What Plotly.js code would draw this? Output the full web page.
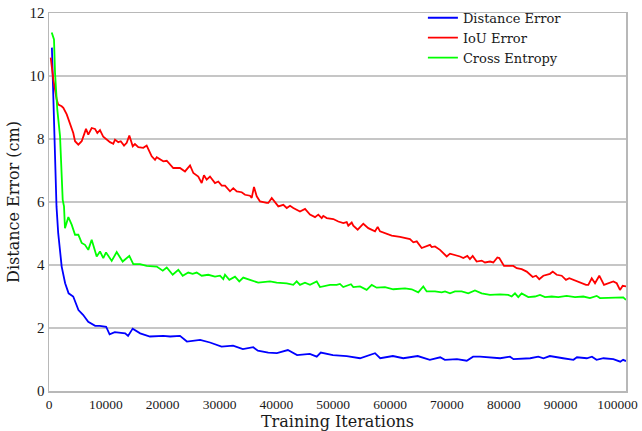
<!DOCTYPE html>
<html>
<head>
<meta charset="utf-8">
<script src="https://cdn.plot.ly/plotly-3.0.1.min.js"></script>
<style>html,body{margin:0;padding:0;background:#fff;}#chart{width:642px;height:431px;}</style>
</head>
<body>
<div id="chart"></div>
<script>
// Distance Error (blue)
const blueX = [510,1320,1620,2230,2840,3450,4260,5180,5990,6900,8120,8930,10050,10660,11570,13400,13910,14720,16040,17760,20100,21310,23040,24260,26590,28320,30350,32380,34100,35930,36740,38570,40090,42020,43640,45880,47100,47810,49940,52370,54710,57350,58260,60490,62320,64860,66990,68820,69630,71760,73490,74600,75820,77550,79370,81100,81710,84650,86070,86990,88100,90440,92260,92870,94600,95510,96320,97540,99270,100490,100990,101500];
const blueY = [10.9,5.86,5.01,3.95,3.42,3.1,3.0,2.57,2.42,2.2,2.07,2.07,2.04,1.8,1.87,1.83,1.75,1.98,1.83,1.73,1.75,1.73,1.75,1.57,1.62,1.54,1.41,1.44,1.33,1.39,1.28,1.22,1.2,1.3,1.14,1.18,1.09,1.22,1.14,1.11,1.04,1.2,1.04,1.11,1.04,1.11,0.99,1.07,0.99,1.01,0.96,1.09,1.09,1.07,1.04,1.09,1.01,1.04,1.09,1.04,1.11,1.04,0.99,1.07,1.04,1.09,0.99,1.04,1.01,0.93,0.99,0.95];

// IoU Error (red)
const redX = [300,760,1350,1630,2230,2520,3120,3690,4270,4580,5160,5750,6510,6910,7510,8090,8500,8970,9550,10730,11310,11610,12190,12620,13200,13670,14130,14730,15120,15710,16590,17180,18070,18650,18950,20110,20710,21860,23040,23920,24810,25390,26260,26860,27260,27740,28320,29200,29780,30380,30960,31840,32420,33020,33900,34480,35360,35660,36060,36540,37120,38300,38580,39180,39760,40340,41220,41820,42400,42980,44150,45040,45910,46790,47370,47970,48250,48850,50010,50890,51770,52370,52650,53250,53530,54300,55290,56170,57350,57820,58230,59100,60280,61740,63500,64090,64690,65560,66440,67020,67330,67900,68780,69960,70540,71420,72300,72880,73590,74050,74530,75230,76110,76690,77580,78160,78870,79210,80040,80790,81680,82280,83150,84030,85090,85670,86240,86960,88130,88610,89310,90190,90940,91520,92530,93410,94470,94870,95470,96050,96800,97630,98380,99270,99870,100440,100920,101500];
const redY = [10.58,9.89,9.25,9.09,9.04,8.99,8.78,8.51,8.19,7.93,7.82,7.93,8.32,8.14,8.35,8.32,8.19,8.28,8.07,7.9,7.85,7.98,7.9,7.93,7.79,7.88,8.11,7.77,7.84,7.74,7.72,7.79,7.45,7.34,7.42,7.29,7.31,7.08,7.08,6.97,7.16,6.92,6.81,6.6,6.85,6.71,6.81,6.6,6.65,6.52,6.52,6.34,6.44,6.34,6.31,6.23,6.2,6.13,6.48,6.18,6.02,5.97,5.97,6.13,5.99,5.86,5.91,5.81,5.88,5.81,5.7,5.78,5.6,5.52,5.6,5.49,5.56,5.49,5.46,5.38,5.33,5.36,5.25,5.35,5.25,5.12,5.31,5.17,5.07,5.21,5.07,5.01,4.93,4.89,4.82,4.72,4.75,4.54,4.59,4.64,4.57,4.59,4.48,4.27,4.36,4.32,4.27,4.22,4.29,4.19,4.29,4.11,4.14,4.08,4.11,4.08,4.24,4.22,3.97,3.97,3.97,3.9,3.87,3.79,3.62,3.66,3.55,3.66,3.72,3.79,3.69,3.66,3.53,3.58,3.51,3.44,3.37,3.37,3.58,3.42,3.66,3.37,3.42,3.48,3.42,3.21,3.34,3.32];

// Cross Entropy (green)
const greenX = [480,880,1060,1460,1940,2230,2410,2640,2810,3400,3990,4580,5160,5750,6330,6910,7510,8390,8970,9550,10030,11030,11910,12960,14130,14830,16010,17180,18950,20010,20710,21760,22750,23520,24500,25270,25980,26860,28020,29200,30080,30660,30960,31720,32720,33470,34170,35360,36810,38870,40050,41820,42970,43570,44150,45030,45910,47090,47670,49430,50610,51180,51760,53120,53530,54710,55880,56770,57640,59100,60560,62620,63800,64960,65840,66440,67900,69080,69660,70540,71410,72590,73760,74930,76110,77570,79330,80790,81390,81970,82550,83140,84310,85490,86370,87250,88420,89590,91060,92520,93990,95160,96340,96920,98680,100130,101020,101500];
const greenY = [11.38,11.16,10.1,8.93,8.09,6.81,6.07,5.86,5.17,5.52,5.28,4.96,4.96,4.7,4.64,4.48,4.8,4.27,4.43,4.22,4.4,4.13,4.41,4.11,4.29,4.03,4.03,3.97,3.95,3.82,3.92,3.69,3.85,3.66,3.76,3.72,3.76,3.66,3.69,3.63,3.66,3.55,3.69,3.53,3.63,3.48,3.6,3.53,3.44,3.48,3.44,3.42,3.37,3.48,3.37,3.44,3.37,3.48,3.3,3.37,3.37,3.4,3.3,3.39,3.3,3.32,3.21,3.37,3.28,3.3,3.23,3.26,3.23,3.13,3.32,3.16,3.16,3.13,3.16,3.1,3.16,3.16,3.1,3.19,3.1,3.05,3.07,3.05,3.0,3.1,2.98,3.1,2.98,3.0,3.05,2.98,3.0,2.98,3.02,2.98,3.0,2.95,3.02,2.95,2.95,2.95,2.97,2.89];

const seriesNames = ['Distance Error','IoU Error','Cross Entropy'];
const xTickVals = [0,10000,20000,30000,40000,50000,60000,70000,80000,90000,100000];
const xTickText = ['0','10000','20000','30000','40000','50000','60000','70000','80000','90000','100000'];
const yTickVals = [0,2,4,6,8,10,12];
const yTickText = ['0','2','4','6','8','10','12'];

const TEXTFONT = '"DejaVu Serif", serif';
const NUMFONT = '"Liberation Serif", "DejaVu Serif", serif';
const INK = '#1a1a1a';

const traces = [
  {x: blueX, y: blueY, name: seriesNames[0], mode: 'lines', line: {color: '#0000ff', width: 1.8}},
  {x: redX, y: redY, name: seriesNames[1], mode: 'lines', line: {color: '#ff0000', width: 1.8}},
  {x: greenX, y: greenY, name: seriesNames[2], mode: 'lines', line: {color: '#00ff00', width: 1.8}}
];

const layout = {
  width: 642, height: 431,
  margin: {l: 49, r: 16, t: 13, b: 40, autoexpand: false},
  paper_bgcolor: '#fff', plot_bgcolor: '#fff',
  font: {family: TEXTFONT, color: INK},
  showlegend: true,
  legend: {
    x: 0.648, y: 1.027, xanchor: 'left', yanchor: 'top',
    bgcolor: 'rgba(0,0,0,0)', borderwidth: 0,
    font: {family: TEXTFONT, size: 13, color: INK},
    itemwidth: 30, tracegroupgap: 0
  },
  xaxis: {
    range: [0, 101500], tickmode: 'array', tickvals: xTickVals, ticktext: xTickText,
    showline: true, mirror: true, linecolor: '#b8b8b8', linewidth: 1.5,
    showgrid: false, zeroline: false, ticks: '',
    tickfont: {family: NUMFONT, size: 13.5, color: INK},
    title: {text: 'Training Iterations', font: {family: TEXTFONT, size: 16, color: INK}, standoff: 8}
  },
  yaxis: {
    range: [0, 12], tickmode: 'array', tickvals: yTickVals, ticktext: yTickText,
    showline: true, mirror: true, linecolor: '#b8b8b8', linewidth: 1.5,
    showgrid: true, gridcolor: '#c6c6c6', gridwidth: 1.2,
    zeroline: false, ticks: '',
    tickfont: {family: NUMFONT, size: 15, color: INK},
    title: {text: 'Distance Error (cm)', font: {family: TEXTFONT, size: 16, color: INK}, standoff: 6}
  }
};

Plotly.newPlot('chart', traces, layout, {displayModeBar: false, staticPlot: true});
</script>
</body>
</html>
